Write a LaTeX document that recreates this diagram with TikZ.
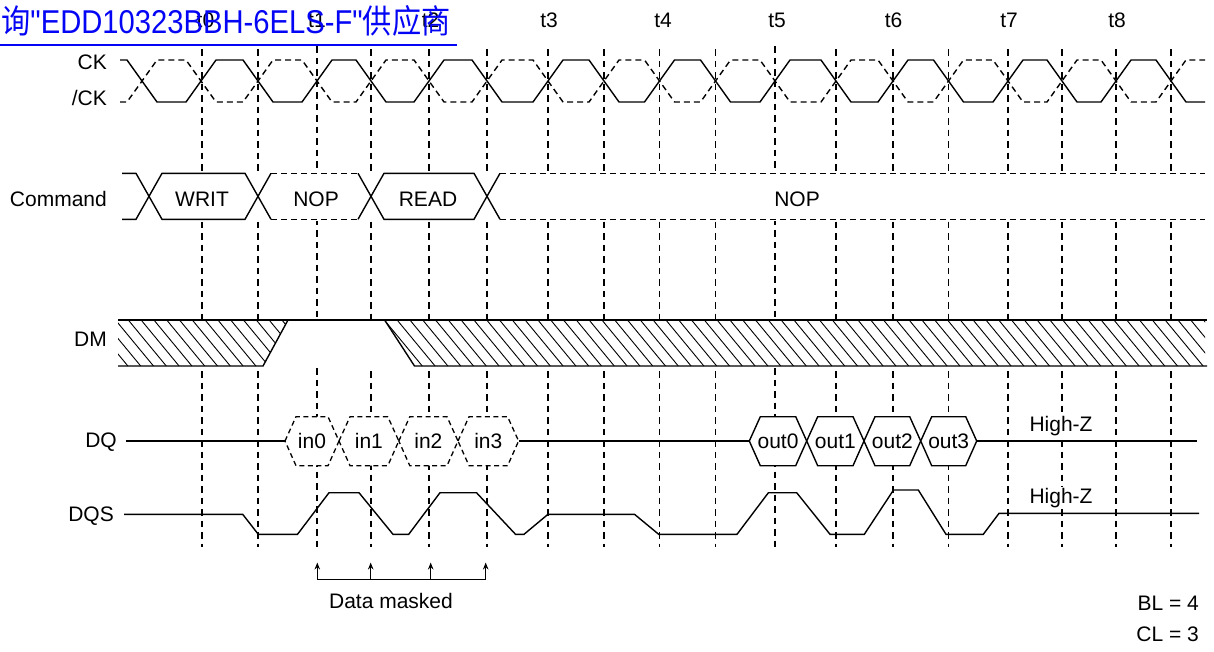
\documentclass[tikz,border=0pt]{standalone}
\usepackage{fontspec}
\setmainfont{Liberation Sans}
\newfontfamily\cjkfont{Noto Sans CJK SC}
\newfontfamily\wmlatin{Liberation Sans}[Ligatures=TeXOff]
\usepackage{graphicx}
\usetikzlibrary{arrows.meta}
\definecolor{wmblue}{RGB}{5,5,245}
\begin{document}
\begin{tikzpicture}[x=1pt,y=-1pt,
  sig/.style={line width=1.4pt, line join=miter},
  sigdash/.style={line width=1.4pt, dash pattern=on 6pt off 4pt},
  hexdash/.style={line width=1.3pt, dash pattern=on 5pt off 3.5pt, fill=white},
  hexsolid/.style={line width=1.4pt, fill=white},
  gridline/.style={line width=1.3pt, dash pattern=on 6.5pt off 5pt},
  hatchline/.style={line width=0.9pt},
  lbl/.style={font=\fontsize{21}{25}\selectfont, inner sep=0pt},
  masktxt/.style={lbl, fill=white, inner sep=1pt},
  maskarrow/.style={line width=1.1pt, -{Stealth[length=7pt,width=5.5pt]}},
]
\useasboundingbox (0,0) rectangle (1214,651);
\fill[white] (0,0) rectangle (1214,651);

% ---------- vertical dashed time lines ----------
\foreach \x/\t in {202/49,258/49,317/46,371/49,429/49,487/49,548/49,604/49,659.5/49,715.5/49,775/46,836/49,893/49,948.5/49,1008/49,1062/49,1116/49,1171/49}
  \draw[gridline] (\x,\t) -- (\x,547);

% ---------- time labels ----------
\foreach \x/\n in {205.5/t0,317/t1,430.5/t2,549/t3,663/t4,777/t5,893.5/t6,1009/t7,1117/t8}
  \node[lbl, anchor=base] (lab\n) at (\x,27.5) {\n};

% ---------- signal names ----------
\node[lbl, anchor=base east] (nCK)  at (107,69)    {CK};
\node[lbl, anchor=base east] (nCKb) at (107,105.5) {/CK};
\node[lbl, anchor=base east] (nCmd) at (107,206)   {Command};
\node[lbl, anchor=base east] (nDM)  at (107,346)   {DM};
\node[lbl, anchor=base east] (nDQ)  at (117,447)   {DQ};
\node[lbl, anchor=base east] (nDQS) at (114,521.5) {DQS};

% ---------- CK and /CK ----------
\draw[sig] (120,60) -- (127,60) -- (157,102) -- (186,102) -- (216,60) -- (243,60) -- (273,102) -- (302,102) -- (332,60) -- (356,60) -- (386,102) -- (414,102) -- (444,60) -- (472,60) -- (502,102) -- (533,102) -- (563,60) -- (589,60) -- (619,102) -- (644.5,102) -- (674.5,60) -- (700.5,60) -- (730.5,102) -- (760,102) -- (790,60) -- (821,60) -- (851,102) -- (878,102) -- (908,60) -- (933.5,60) -- (963.5,102) -- (993,102) -- (1023,60) -- (1047,60) -- (1077,102) -- (1101,102) -- (1131,60) -- (1156,60) -- (1186,102) -- (1205,102);
\draw[sigdash] (120,102) -- (127,102) -- (157,60) -- (186,60) -- (216,102) -- (243,102) -- (273,60) -- (302,60) -- (332,102) -- (356,102) -- (386,60) -- (414,60) -- (444,102) -- (472,102) -- (502,60) -- (533,60) -- (563,102) -- (589,102) -- (619,60) -- (644.5,60) -- (674.5,102) -- (700.5,102) -- (730.5,60) -- (760,60) -- (790,102) -- (821,102) -- (851,60) -- (878,60) -- (908,102) -- (933.5,102) -- (963.5,60) -- (993,60) -- (1023,102) -- (1047,102) -- (1077,60) -- (1101,60) -- (1131,102) -- (1156,102) -- (1186,60) -- (1205,60);

% ---------- Command bus ----------
\fill[white] (120,171) rectangle (1207,221);
\draw[sig] (122,173.3) -- (136,173.3) -- (162,219.3) -- (245,219.3) -- (271,173.3);
\draw[sig] (122,219.3) -- (136,219.3) -- (162,173.3) -- (245,173.3) -- (271,219.3);
\draw[sigdash] (271,173.3) -- (358,173.3);
\draw[sigdash] (271,219.3) -- (358,219.3);
\draw[sig] (358,173.3) -- (384,219.3) -- (474,219.3) -- (500,173.3);
\draw[sig] (358,219.3) -- (384,173.3) -- (474,173.3) -- (500,219.3);
\draw[sigdash] (500,173.3) -- (1205,173.3);
\draw[sigdash] (500,219.3) -- (1205,219.3);
\node[lbl, anchor=base] (cWRIT) at (202,206) {WRIT};
\node[lbl, anchor=base] (cNOP1) at (316,206) {NOP};
\node[lbl, anchor=base] (cREAD) at (428,206) {READ};
\node[lbl, anchor=base] (cNOP2) at (797,206) {NOP};

% ---------- DM ----------
\fill[white] (116,319) rectangle (1209,367);
\begin{scope}
  \clip (118,320) -- (288,320) -- (263,366) -- (118,366) -- cycle;
  \foreach \k in {-4,...,14}
    \draw[hatchline] ({128.3+12.8*\k},320) -- ({166.3+12.8*\k},366);
\end{scope}
\begin{scope}
  \clip (384.6,320) -- (1205,320) -- (1205,366) -- (414.5,366) -- cycle;
  \foreach \k in {18,...,85}
    \draw[hatchline] ({128.3+12.8*\k},320) -- ({166.3+12.8*\k},366);
\end{scope}
\draw[sig] (118,320) -- (1207,320);
\draw[sig] (118,366) -- (263,366) -- (288,320);
\draw[sig] (384.6,320) -- (414.5,366) -- (1207,366);

% ---------- DQ ----------
\draw[sig] (126,441) -- (285,441);
\draw[sig] (518.6,441) -- (749.3,441);
\draw[sig] (976.7,441) -- (1197,441);
\foreach \a/\b/\n in {285/339/in0, 339/398.8/in1, 398.8/458/in2, 458/518.6/in3} {
  \draw[hexdash] (\a,441) -- ({\a+11},416.7) -- ({\b-11},416.7) -- (\b,441) -- ({\b-11},465.7) -- ({\a+11},465.7) -- cycle;
  \node[lbl, anchor=base] (q\n) at ({(\a+\b)/2},448) {\n};
}
\foreach \a/\b/\n in {749.3/806.7/out0, 806.7/864/out1, 864/920.7/out2, 920.7/976.7/out3} {
  \draw[hexsolid] (\a,441) -- ({\a+11},416.7) -- ({\b-11},416.7) -- (\b,441) -- ({\b-11},465.7) -- ({\a+11},465.7) -- cycle;
  \node[lbl, anchor=base] (q\n) at ({(\a+\b)/2},448) {\n};
}
\node[masktxt, anchor=base] (hz1) at (1061,431.7) {High-Z};

% ---------- DQS ----------
\draw[sig] (124,514.3) -- (242.7,514.3) -- (258.3,534.3) -- (297.5,534.3) -- (329,492.7) -- (359,492.7) -- (393,534.3) -- (408.7,534.3) -- (440,492.7) -- (476.5,492.7) -- (515.5,534.3) -- (524,534.3) -- (548,514.3) -- (634.5,514.3) -- (658.7,534.3) -- (737,534.3) -- (768.4,492.7) -- (796.7,492.7) -- (830,534.3) -- (864.3,534.3) -- (893.5,490) -- (918.3,490) -- (946,534.3) -- (983.3,534.3) -- (999,513.3) -- (1199,513.3);
\node[masktxt, anchor=base] (hz2) at (1061,503.3) {High-Z};

% ---------- Data masked ----------
\coordinate (mb1) at (317.3,579.3); \coordinate (mt1) at (317.3,562.5);
\coordinate (mb2) at (370.7,579.3); \coordinate (mt2) at (370.7,562.5);
\coordinate (mb3) at (430.7,579.3); \coordinate (mt3) at (430.7,562.5);
\coordinate (mb4) at (485.7,579.3); \coordinate (mt4) at (485.7,562.5);
\draw[line width=1.1pt] (mb1) -- (mb4);
\foreach \i in {1,2,3,4} \draw[maskarrow] (mb\i) -- (mt\i);
\node[lbl, anchor=base] (dmask) at (391,608.3) {Data masked};

% ---------- BL / CL ----------
\node[lbl, anchor=base east] (bl) at (1199,610) {BL = 4};
\node[lbl, anchor=base east] (cl) at (1199,641.7) {CL = 3};

% ---------- overlay link text ----------
\node[anchor=base west, inner sep=0pt, text=wmblue, font=\fontsize{33}{36}\selectfont] (wm) at (1,33.3)
  {\scalebox{0.885}[1]{{\cjkfont 询}{\wmlatin "EDD10323BBH-6ELS-F"}{\cjkfont 供应商}}};
\draw[wmblue, line width=2pt] (0,44.5) -- (456.6,44.5);
\end{tikzpicture}
\end{document}
